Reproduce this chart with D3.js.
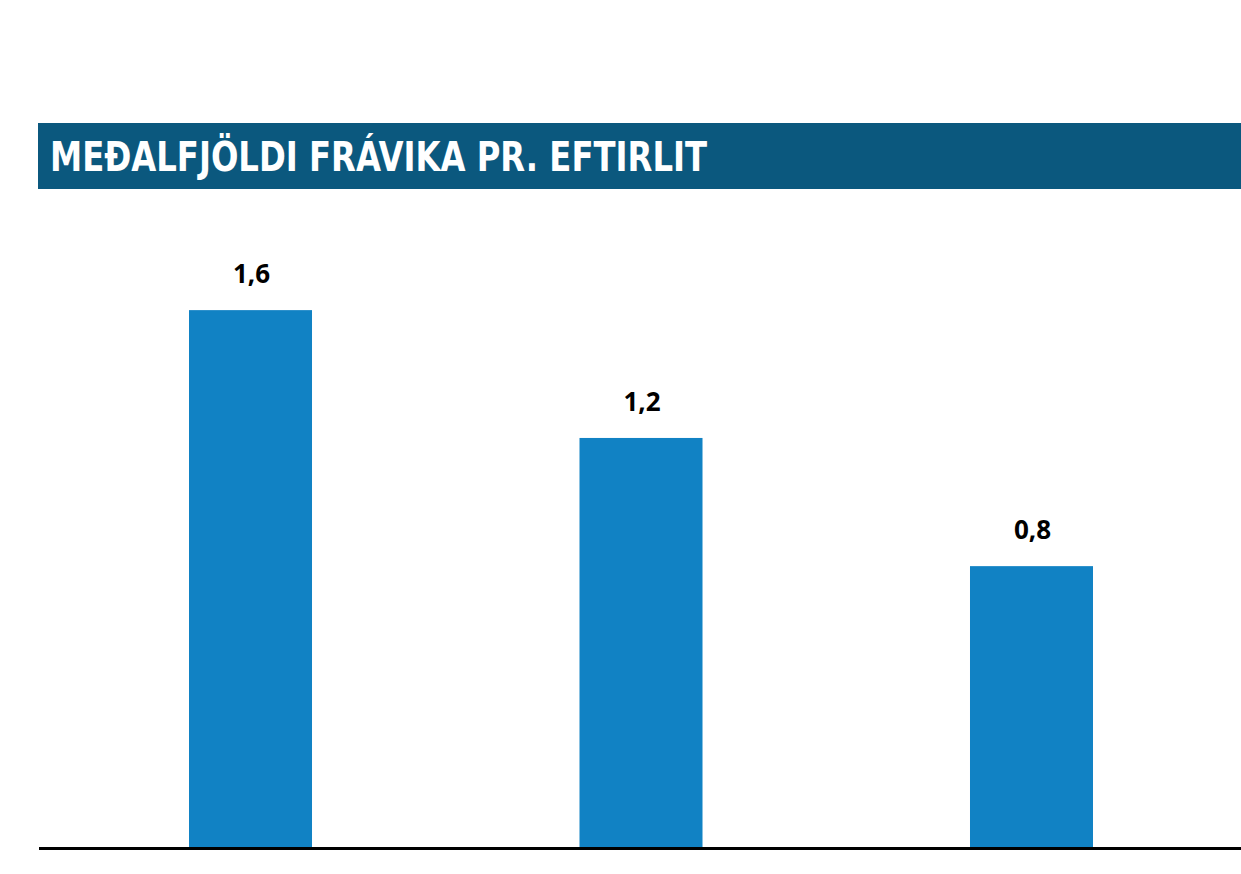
<!DOCTYPE html>
<html>
<head>
<meta charset="utf-8">
<script src="https://cdn.jsdelivr.net/npm/d3@7"></script>
<style>
  html, body { margin: 0; padding: 0; background: #fff; }
  svg { display: block; }
</style>
</head>
<body>
<svg id="chart" width="1241" height="874"></svg>
<script>
// values (labels are rounded to one decimal)
const categories = ["A", "B", "C"];
const values = [1.582, 1.206, 0.829];
const title = "MEÐALFJÖLDI FRÁVIKA PR. EFTIRLIT";

const svg = d3.select("#chart"),
    width = +svg.attr("width"),
    height = +svg.attr("height");

// title band
svg.append("rect")
    .attr("x", 38).attr("y", 123)
    .attr("width", width - 38).attr("height", 66)
    .attr("fill", "#0b587e");

const t = svg.append("text")
    .attr("x", 50).attr("y", 171)
    .attr("fill", "#fff")
    .attr("font-family", "'Liberation Sans Narrow', 'DejaVu Sans Condensed', 'Liberation Sans', sans-serif")
    .attr("font-weight", "bold")
    .attr("font-size", 41)
    .text(title);
if (t.node().getComputedTextLength() > 0) t.attr("textLength", 657).attr("lengthAdjust", "spacingAndGlyphs");

const x = d3.scaleBand()
    .domain(categories)
    .range([189, 1093])
    .paddingInner(0.685)
    .paddingOuter(0);

const y = d3.scaleLinear()
    .domain([0, 2])
    .range([848, 168]);

const fmt = d => d3.format(".1f")(d).replace(".", ",");

const g = svg.append("g");

g.selectAll(".bar")
    .data(values)
    .enter().append("rect")
    .attr("class", "bar")
    .attr("x", (d, i) => x(categories[i]))
    .attr("y", d => y(d))
    .attr("width", x.bandwidth())
    .attr("height", d => y(0) - y(d))
    .attr("fill", "#1182c4");

g.selectAll(".lbl")
    .data(values)
    .enter().append("text")
    .attr("class", "lbl")
    .attr("x", (d, i) => x(categories[i]) + x.bandwidth() / 2 + 1)
    .attr("y", d => y(d) - 27)
    .attr("text-anchor", "middle")
    .attr("font-family", "'Open Sans', 'Liberation Sans', sans-serif")
    .attr("font-weight", "bold")
    .attr("font-size", 26)
    .attr("fill", "#000")
    .text(fmt);

// baseline
svg.append("line")
    .attr("x1", 39).attr("x2", width)
    .attr("y1", y(0) + 0.5).attr("y2", y(0) + 0.5)
    .attr("stroke", "#000")
    .attr("stroke-width", 3);
</script>
</body>
</html>
